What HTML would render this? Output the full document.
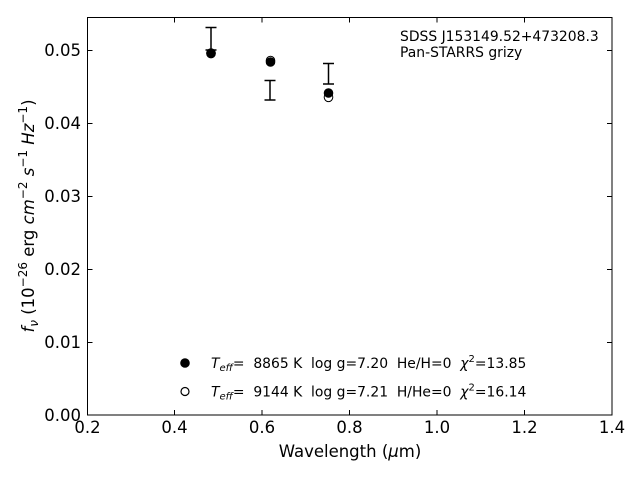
<!DOCTYPE html>
<html><head><meta charset="utf-8"><style>
html,body{margin:0;padding:0;background:#fff;}
svg{display:block;}
text{font-family:"DejaVu Sans","Liberation Sans",sans-serif;fill:#000;}
</style></head><body>
<svg width="640" height="480" viewBox="0 0 640 480" xmlns="http://www.w3.org/2000/svg">
<rect x="0" y="0" width="640" height="480" fill="#fff"/>
<!-- axes frame -->
<rect x="87.5" y="17.5" width="524.5" height="397.5" fill="none" stroke="#000" stroke-width="1"/>
<!-- x ticks bottom & top -->
<g stroke="#000" stroke-width="1">
<line x1="87.5" y1="415" x2="87.5" y2="410"/>
<line x1="174.5" y1="415" x2="174.5" y2="410"/>
<line x1="262" y1="415" x2="262" y2="410"/>
<line x1="349.5" y1="415" x2="349.5" y2="410"/>
<line x1="437" y1="415" x2="437" y2="410"/>
<line x1="524.5" y1="415" x2="524.5" y2="410"/>
<line x1="612" y1="415" x2="612" y2="410"/>
<line x1="174.5" y1="17.5" x2="174.5" y2="22.5"/>
<line x1="262" y1="17.5" x2="262" y2="22.5"/>
<line x1="349.5" y1="17.5" x2="349.5" y2="22.5"/>
<line x1="437" y1="17.5" x2="437" y2="22.5"/>
<line x1="524.5" y1="17.5" x2="524.5" y2="22.5"/>
<!-- y ticks left & right -->
<line x1="87.5" y1="342.5" x2="92.5" y2="342.5"/>
<line x1="87.5" y1="269.5" x2="92.5" y2="269.5"/>
<line x1="87.5" y1="196.5" x2="92.5" y2="196.5"/>
<line x1="87.5" y1="123.5" x2="92.5" y2="123.5"/>
<line x1="87.5" y1="50.5" x2="92.5" y2="50.5"/>
<line x1="612" y1="342.5" x2="607" y2="342.5"/>
<line x1="612" y1="269.5" x2="607" y2="269.5"/>
<line x1="612" y1="196.5" x2="607" y2="196.5"/>
<line x1="612" y1="123.5" x2="607" y2="123.5"/>
<line x1="612" y1="50.5" x2="607" y2="50.5"/>
</g>
<!-- x tick labels -->
<g font-size="16.5" text-anchor="middle">
<text x="87.5" y="433">0.2</text>
<text x="174.5" y="433">0.4</text>
<text x="262" y="433">0.6</text>
<text x="349.5" y="433">0.8</text>
<text x="437" y="433">1.0</text>
<text x="524.5" y="433">1.2</text>
<text x="612" y="433">1.4</text>
</g>
<!-- y tick labels -->
<g font-size="16.5" text-anchor="end">
<text x="81" y="421">0.00</text>
<text x="81" y="348">0.01</text>
<text x="81" y="275">0.02</text>
<text x="81" y="202">0.03</text>
<text x="81" y="129">0.04</text>
<text x="81" y="56">0.05</text>
</g>
<!-- x label -->
<text x="350" y="457" font-size="16.5" text-anchor="middle">Wavelength (<tspan font-style="italic">μ</tspan>m)</text>
<!-- y label -->
<text transform="translate(34,216) rotate(-90)" font-size="16.5" text-anchor="middle" xml:space="preserve"><tspan font-style="italic">f</tspan><tspan font-style="italic" font-size="12" dy="4">ν</tspan><tspan dy="-4"> (10</tspan><tspan font-size="12" dy="-7">−26</tspan><tspan dy="7"> erg </tspan><tspan font-style="italic">cm</tspan><tspan font-size="12" dy="-7">−2</tspan><tspan dy="7"> </tspan><tspan font-style="italic">s</tspan><tspan font-size="12" dy="-7">−1</tspan><tspan dy="7"> </tspan><tspan font-style="italic">Hz</tspan><tspan font-size="12" dy="-7">−1</tspan><tspan dy="7">)</tspan></text>
<!-- annotation -->
<text x="400" y="41" font-size="13.9">SDSS J153149.52+473208.3</text>
<text x="400" y="57" font-size="13.9">Pan-STARRS grizy</text>
<!-- error bars -->
<g stroke="#000" stroke-width="1.5" fill="none">
<line x1="211" y1="27.5" x2="211" y2="50"/>
<line x1="205.5" y1="27.5" x2="216.5" y2="27.5"/>
<line x1="205.5" y1="50" x2="216.5" y2="50"/>
<line x1="270" y1="80.5" x2="270" y2="100"/>
<line x1="264.5" y1="80.5" x2="275.5" y2="80.5"/>
<line x1="264.5" y1="100" x2="275.5" y2="100"/>
<line x1="328.5" y1="63.5" x2="328.5" y2="84"/>
<line x1="323" y1="63.5" x2="334" y2="63.5"/>
<line x1="323" y1="84" x2="334" y2="84"/>
</g>
<!-- open circles -->
<g fill="#fff" stroke="#000" stroke-width="1">
<circle cx="211" cy="53" r="4.3"/>
<circle cx="270.5" cy="60.5" r="4.3"/>
<circle cx="328.5" cy="97.3" r="4.3"/>
</g>
<!-- filled circles -->
<g fill="#000" stroke="#000" stroke-width="1">
<circle cx="211" cy="53.6" r="4.3"/>
<circle cx="270.5" cy="62" r="4.3"/>
<circle cx="328.5" cy="93" r="4.3"/>
</g>
<!-- legend -->
<circle cx="185" cy="363" r="4.3" fill="#000" stroke="#000"/>
<circle cx="185" cy="391.5" r="4" fill="#fff" stroke="#000" stroke-width="1.2"/>
<text x="211" y="368" font-size="13.9" xml:space="preserve"><tspan font-style="italic">T</tspan><tspan font-style="italic" font-size="10" dy="3">eff</tspan><tspan dy="-3">=  8865 K  log g=7.20  He/H=0  </tspan><tspan font-style="italic">χ</tspan><tspan font-size="10" dy="-6">2</tspan><tspan dy="6">=13.85</tspan></text>
<text x="211" y="396.5" font-size="13.9" xml:space="preserve"><tspan font-style="italic">T</tspan><tspan font-style="italic" font-size="10" dy="3">eff</tspan><tspan dy="-3">=  9144 K  log g=7.21  H/He=0  </tspan><tspan font-style="italic">χ</tspan><tspan font-size="10" dy="-6">2</tspan><tspan dy="6">=16.14</tspan></text>
</svg>
</body></html>
